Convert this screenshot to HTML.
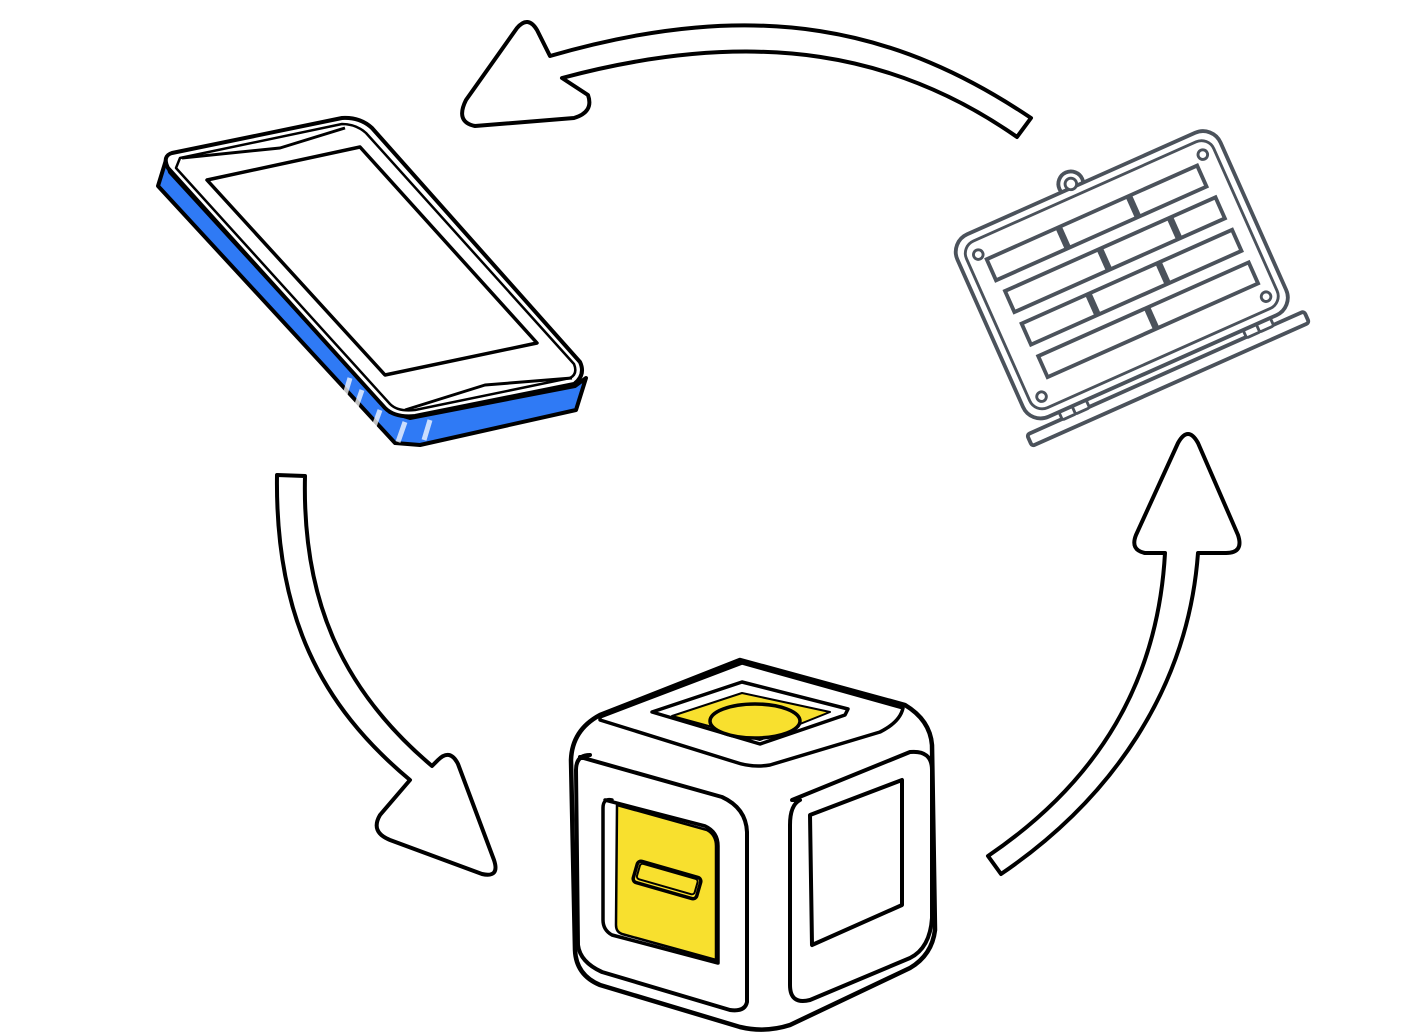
<!DOCTYPE html>
<html><head><meta charset="utf-8"><style>html,body{margin:0;padding:0;background:#fff}svg{display:block}</style></head>
<body>
<svg width="1415" height="1033" viewBox="0 0 1415 1033" xmlns="http://www.w3.org/2000/svg">
<g fill="#fff" stroke="#000" stroke-width="4" stroke-linejoin="round">
<path d="M1031,118 C900,30 760,-5 550,56 L537,30 Q528,15 517,28 L466,100 Q455,122 475,126 L574,118 Q594,112 588,95 L562,78 C760,25 900,55 1017,137 Z"/>
<path d="M277,475 C275,615 320,705 410,780 L380,815 Q370,832 390,840 L482,874 Q500,878 494,860 L458,764 Q450,748 438,760 L432,766 C342,690 302,600 305,476 Z"/>
<path d="M988,856 C1100,780 1158,680 1165,553 L1145,553 Q1130,550 1136,535 L1178,443 Q1188,425 1198,443 L1238,535 Q1244,553 1226,553 L1198,553 C1188,690 1110,800 1001,874 Z"/>
</g>

<g stroke="#000" stroke-width="4" stroke-linejoin="round" fill="#fff">
<path d="M166,160 L158,186 L395,443 L420,445 L576,410 L586,378 L575,386 L410,418 L390,412 L170,172 Z" fill="#2f7af5"/>
<path d="M172,153 L342,118 Q360,117 372,128 L580,362 Q586,375 574,384 L415,416 Q395,418 385,408 L168,168 Q162,156 172,153 Z"/>
<path d="M180,158 L342,124 Q356,124 366,133 L574,364 Q578,374 570,378 L415,410 Q398,412 390,404 L176,168 Z" stroke-width="2.5"/>
<path d="M207,180 L360,147 L537,343 L385,375 Z" stroke-width="3.5"/>
<path d="M182,158 L280,148 L345,128" fill="none" stroke-width="3"/>
<path d="M405,410 L485,385 L572,378" fill="none" stroke-width="3"/>
</g>
<g stroke="#fff" stroke-opacity="0.75" stroke-width="5">
<line x1="350" y1="378" x2="344" y2="398"/>
<line x1="362" y1="390" x2="355" y2="410"/>
<line x1="380" y1="410" x2="372" y2="432"/>
<line x1="405" y1="422" x2="398" y2="442"/>
<line x1="430" y1="420" x2="424" y2="440"/>
</g>

<g stroke="#000" stroke-width="4.5" stroke-linejoin="round" fill="#fff">
<path d="M740,660 L905,705 Q930,720 932,745 L935,930 Q932,955 910,968 L790,1025 Q765,1033 740,1027 L600,985 Q576,975 575,950 L571,760 Q572,730 600,715 Z"/>
<path d="M600,717 L742,663 L903,708 Q900,722 880,732 L770,765 Q752,768 735,762 L600,720 Z" stroke-width="3.5"/>
<path d="M652,712 L742,682 L848,709 L845,715 L760,744 Z" stroke-width="3.5"/>
<path d="M672,716 L742,693 L830,712 L760,740 Z" fill="#f8e02e" stroke-width="2"/>
<ellipse cx="755" cy="721" rx="45" ry="17" fill="#f8e02e" stroke-width="3.5"/>
<path d="M580,757 L722,797 Q746,808 747,832 L747,1002 Q745,1012 730,1010 L602,972 Q580,962 578,945 L576,770 Q576,755 590,755 Z" stroke-width="4"/>
<path d="M605,800 L705,826 Q718,832 718,846 L718,963 L612,935 Q603,930 603,920 L603,808 Q603,798 612,800 Z" stroke-width="3.5"/>
<path d="M617,805 L707,830 Q716,835 716,846 L716,960 L622,934 Q616,932 616,925 Z" fill="#f8e02e" stroke-width="2.5"/>
<g transform="translate(667,880) rotate(16)"><rect x="-33" y="-11" width="66" height="22" rx="4" stroke-width="3.5" fill="#f8e02e"/><rect x="-30" y="-9" width="60" height="16" rx="3" stroke-width="2" fill="#f8e02e"/></g>
<path d="M792,800 L910,752 Q932,750 932,770 L932,918 Q930,948 910,958 L810,1000 Q790,1005 790,985 L790,825 Q790,805 800,800 Z" stroke-width="4"/>
<path d="M810,815 L902,780 L902,905 L812,945 Z" stroke-width="4"/>
</g>

<g transform="translate(1121,273) rotate(-24) scale(0.96)" stroke="#4b525b" stroke-width="4" fill="#fff">
<rect x="-158" y="114" width="316" height="13" rx="3"/>
<rect x="-118" y="106" width="16" height="9" rx="2" stroke-width="3"/>
<rect x="-103" y="106" width="16" height="9" rx="2" stroke-width="3"/>
<rect x="92" y="106" width="16" height="9" rx="2" stroke-width="3"/>
<rect x="107" y="106" width="16" height="9" rx="2" stroke-width="3"/>
<circle cx="-10" cy="-106" r="13"/>
<rect x="-150" y="-102" width="300" height="208" rx="20"/>
<circle cx="-10" cy="-106" r="6" stroke-width="3"/>
<rect x="-141" y="-93" width="282" height="190" rx="14" stroke-width="3"/>
<circle cx="-128" cy="-78" r="5" stroke-width="3"/>
<circle cx="128" cy="-78" r="5" stroke-width="3"/>
<circle cx="-128" cy="84" r="5" stroke-width="3"/>
<circle cx="128" cy="84" r="5" stroke-width="3"/>
<rect x="-122" y="-70" width="240" height="24"/>
<rect x="-118" y="-32" width="240" height="24"/>
<rect x="-116" y="6" width="240" height="24"/>
<rect x="-114" y="44" width="240" height="24"/>
<line x1="-40" y1="-70" x2="-40" y2="-46" stroke-width="7"/>
<line x1="40" y1="-70" x2="40" y2="-46" stroke-width="7"/>
<line x1="-10" y1="-32" x2="-10" y2="-8" stroke-width="7"/>
<line x1="70" y1="-32" x2="70" y2="-8" stroke-width="7"/>
<line x1="-40" y1="6" x2="-40" y2="30" stroke-width="7"/>
<line x1="40" y1="6" x2="40" y2="30" stroke-width="7"/>
<line x1="10" y1="44" x2="10" y2="68" stroke-width="7"/>
</g>
</svg>
</body></html>
